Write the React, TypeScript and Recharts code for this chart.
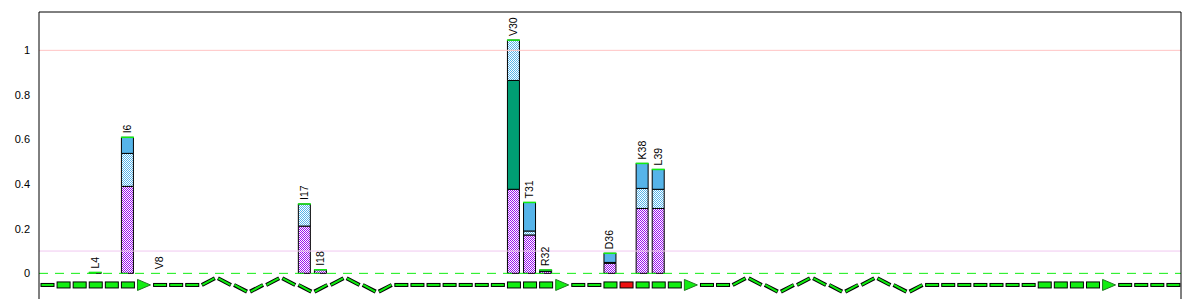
import React from "react";
import {
  ComposedChart,
  Bar,
  XAxis,
  YAxis,
  ReferenceLine,
  LabelList,
} from "recharts";

// residue-level secondary structure: C coil, E strand, A strand end (arrow), X flagged strand, H helix
const secStruct =
  "CEEEEEACCCHHHHHHHHHHHHCCCCCCCEEEACCEXEEEACCHHHHHHHHHHHHCCCCCCCEEEEACCCC";

const labeledResidues = [4, 6, 8, 17, 18, 30, 31, 32, 36, 38, 39];
const residueLabels = ["L4", "I6", "V8", "I17", "I18", "V30", "T31", "R32", "D36", "K38", "L39"];
const purpleVals = [0.004, 0.39, 0, 0.212, 0.016, 0.377, 0.172, 0.009, 0.045, 0.291, 0.291];
const greenVals = [0, 0, 0, 0, 0, 0.488, 0, 0, 0, 0, 0];
const dottedVals = [0, 0.148, 0, 0.099, 0, 0.181, 0.018, 0, 0.004, 0.09, 0.086];
const blueVals = [0, 0.072, 0, 0, 0, 0, 0.128, 0.006, 0.041, 0.112, 0.089];

const yTicks = [0, 0.2, 0.4, 0.6, 0.8, 1];
const yDomain = [-0.115, 1.172];
const trackRange = [-0.082, -0.022];

const GREEN = "#11ee11";
const FONT = "'Liberation Sans', Arial, sans-serif";

// build the table the chart needs
const rows = secStruct.split("").map((ss, i) => {
  const res = i + 1;
  const k = labeledResidues.indexOf(res);
  let phase = 0;
  if (ss === "H") {
    let j = i - 1;
    while (j >= 0 && secStruct[j] === "H") j--;
    phase = (i - j - 1) % 4;
  }
  const purple = k >= 0 ? purpleVals[k] : 0;
  const dkgreen = k >= 0 ? greenVals[k] : 0;
  const dotted = k >= 0 ? dottedVals[k] : 0;
  const blue = k >= 0 ? blueVals[k] : 0;
  return {
    res: String(res),
    num: res,
    ss,
    phase,
    track: trackRange,
    purple,
    dkgreen,
    dotted,
    blue,
    cap: 0,
    total: purple + dkgreen + dotted + blue,
    label: k >= 0 ? residueLabels[k] : "",
  };
});

function TrackShape(props: any) {
  const { x, y, width, height, payload } = props;
  const top = Math.min(y, y + height);
  const bot = Math.max(y, y + height);
  const mid = (top + bot) / 2;
  const x1 = x + width;
  const ss = payload.ss;
  if (ss === "E" || ss === "X") {
    return (
      <rect x={x} y={mid - 3} width={width} height={6}
        fill={ss === "X" ? "#ee1111" : GREEN} stroke="#000" strokeWidth={1} />
    );
  }
  if (ss === "A") {
    return (
      <polygon points={`${x},${mid - 5.5} ${x1},${mid} ${x},${mid + 5.5}`}
        fill={GREEN} stroke="#227722" strokeWidth={1} />
    );
  }
  if (ss === "C") {
    return (
      <rect x={x} y={mid - 1.5} width={width} height={3}
        fill={GREEN} stroke="#000" strokeWidth={1} />
    );
  }
  // helix zigzag
  const pts = [
    [mid, top],
    [top, mid],
    [mid, bot],
    [bot, mid],
  ][payload.phase];
  return (
    <g>
      <line x1={x} y1={pts[0]} x2={x1} y2={pts[1]} stroke="#000" strokeWidth={4} />
      <line x1={x + 0.5} y1={pts[0]} x2={x1 - 0.5} y2={pts[1]} stroke={GREEN} strokeWidth={2} />
    </g>
  );
}

function CapShape(props: any) {
  const { x, y, width, payload } = props;
  if (!payload || !(payload.total > 0)) return <g />;
  return (
    <line x1={x - 0.5} x2={x + width + 0.5} y1={y} y2={y} stroke={GREEN} strokeWidth={1.5} />
  );
}

const renderLabel = (props: any) => {
  const { x, y, width, value } = props;
  if (!value) return <g />;
  const tx = Number(x) + Number(width) / 2 + 3.5;
  const ty = Number(y) - 4;
  return (
    <text x={tx} y={ty} transform={`rotate(-90 ${tx} ${ty})`}
      fontSize={10.5} fontFamily={FONT} fill="#000">
      {value}
    </text>
  );
};

export default function App() {
  return (
    <div style={{ marginLeft: -8, marginTop: -8 }}>
      <svg width={0} height={0} style={{ position: "absolute" }}>
        <defs>
          <pattern id="purpleChk" width={2} height={2} patternUnits="userSpaceOnUse">
            <rect width={2} height={2} fill="#fff" />
            <rect width={1} height={1} fill="#9a10ee" />
            <rect x={1} y={1} width={1} height={1} fill="#9a10ee" />
          </pattern>
          <pattern id="blueChk" width={2} height={2} patternUnits="userSpaceOnUse">
            <rect width={2} height={2} fill="#fff" />
            <rect width={1} height={1} fill="#56b4e9" />
            <rect x={1} y={1} width={1} height={1} fill="#56b4e9" />
          </pattern>
        </defs>
      </svg>
      <ComposedChart
        width={1200}
        height={300}
        data={rows}
        margin={{ top: 12, right: 19, bottom: 1, left: 9 }}
      >
        <XAxis
          xAxisId="main"
          dataKey="res"
          interval={9}
          height={0}
          mirror
          tickSize={3}
          tickFormatter={() => ""}
          axisLine={{ stroke: "#000" }}
          tickLine={{ stroke: "#000" }}
        />
        <XAxis xAxisId="ss" dataKey="res" hide />
        <XAxis xAxisId="num" dataKey="num" type="number" domain={[0.5, 71.5]} hide />
        <YAxis
          width={30}
          domain={yDomain}
          ticks={yTicks}
          allowDataOverflow
          tickLine={false}
          tickMargin={3}
          axisLine={{ stroke: "#000" }}
          tickFormatter={(v: number) => String(v)}
          tick={{ fontSize: 11, fontFamily: FONT, fill: "#000" }}
        />
        <ReferenceLine xAxisId="main" y={1} stroke="#ffc4c4" />
        <ReferenceLine xAxisId="main" y={0.1} stroke="#f0c8f0" />
        <ReferenceLine xAxisId="main" y={0} stroke={GREEN} strokeDasharray="9 7" />
        <ReferenceLine xAxisId="main" y={yDomain[1]} stroke="#000" />
        <ReferenceLine xAxisId="num" x={71.5} stroke="#000" />
        <Bar xAxisId="ss" dataKey="track" barSize={13} shape={TrackShape} isAnimationActive={false} />
        <Bar xAxisId="main" dataKey="purple" stackId="a" barSize={12} fill="url(#purpleChk)"
          stroke="#000" strokeWidth={1} isAnimationActive={false} />
        <Bar xAxisId="main" dataKey="dkgreen" stackId="a" barSize={12} fill="#009e73"
          stroke="#000" strokeWidth={1} isAnimationActive={false} />
        <Bar xAxisId="main" dataKey="dotted" stackId="a" barSize={12} fill="url(#blueChk)"
          stroke="#000" strokeWidth={1} isAnimationActive={false} />
        <Bar xAxisId="main" dataKey="blue" stackId="a" barSize={12} fill="#56b4e9"
          stroke="#000" strokeWidth={1} isAnimationActive={false} />
        <Bar xAxisId="main" dataKey="cap" stackId="a" barSize={12} shape={CapShape}
          isAnimationActive={false}>
          <LabelList dataKey="label" content={renderLabel} />
        </Bar>
      </ComposedChart>
    </div>
  );
}
